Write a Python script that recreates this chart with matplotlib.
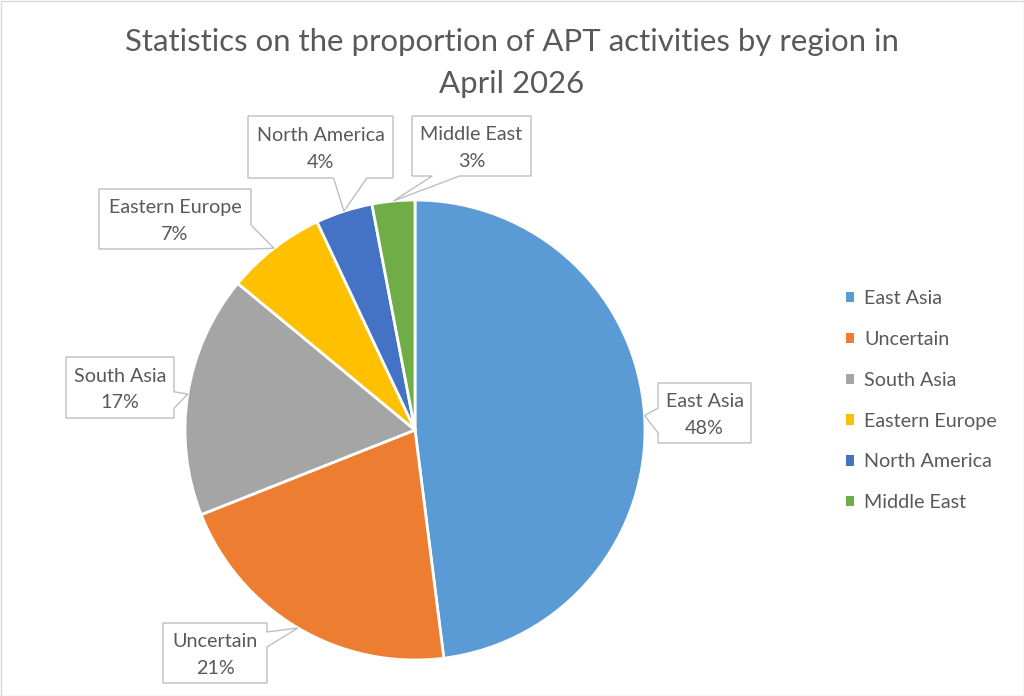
"""
Pie chart of APT activity share by region, April 2026 (Excel-style callouts).
"""

import numpy as np
import matplotlib.pyplot as plt
from matplotlib.patches import Polygon, Rectangle, Patch

regions = ["East Asia", "Uncertain", "South Asia", "Eastern Europe",
           "North America", "Middle East"]
shares = [48, 21, 17, 7, 4, 3]
colors = ["#5B9BD5", "#ED7D31", "#A5A5A5", "#FFC000", "#4472C4", "#70AD47"]
title = "Statistics on the proportion of APT activities by region in\nApril 2026"

W, H = 1024, 696
FONT = ["Lato", "DejaVu Sans"]
TEXT_COLOR = "#595959"
CENTER = (415, 430)   # pixels, measured from top
RADIUS = 230

# callout box (left, top, right, bottom) in pixels from top, side of pointer,
# and the part of that side the pointer starts from
callouts = {
    "East Asia": ((658, 383, 751, 443), "left", (0.42, 0.83)),
    "Uncertain": ((163, 623, 267, 683), "right", (0.15, 0.40)),
    "South Asia": ((66, 357, 174, 418), "right", (0.57, 0.84)),
    "Eastern Europe": ((99, 189, 251, 249), "right", (0.60, 1.00)),
    "North America": ((248, 116, 393, 178), "bottom", (0.59, 0.82)),
    "Middle East": ((412, 116, 531, 176), "bottom", (0.17, 0.40)),
}


def fy(y):
    """Pixel row (from top) to data y (from bottom)."""
    return H - y


def callout_polygon(box, side, frac, tip):
    x0, y0, x1, y1 = box
    tl, tr, br, bl = (x0, fy(y0)), (x1, fy(y0)), (x1, fy(y1)), (x0, fy(y1))
    if side == "bottom":
        a = x0 + frac[0] * (x1 - x0)
        b = x0 + frac[1] * (x1 - x0)
        pts = [tl, tr, br, (b, fy(y1)), tip, (a, fy(y1)), bl]
    elif side == "left":
        a = y0 + frac[0] * (y1 - y0)
        b = y0 + frac[1] * (y1 - y0)
        pts = [tl, tr, br, bl, (x0, fy(b)), tip, (x0, fy(a))]
    else:
        a = y0 + frac[0] * (y1 - y0)
        b = y0 + frac[1] * (y1 - y0)
        pts = [tl, tr, (x1, fy(a)), tip, (x1, fy(b)), br, bl]
    return Polygon(pts, closed=True, facecolor="white", edgecolor="#BFBFBF",
                   linewidth=1.0, zorder=3)


fig = plt.figure(figsize=(W / 100, H / 100), dpi=100)
ax = fig.add_axes([0, 0, 1, 1])

cx, cy = CENTER[0], fy(CENTER[1])
ax.pie(shares, colors=colors, startangle=90, counterclock=False,
       center=(cx, cy), radius=RADIUS,
       wedgeprops=dict(edgecolor="white", linewidth=2))

ax.set_xlim(0, W)
ax.set_ylim(0, H)
ax.set_aspect("auto")
ax.axis("off")

# callouts, pointing at the middle of each slice's rim
total = sum(shares)
cum = np.cumsum(shares)
for name, value, c in zip(regions, shares, cum):
    theta = np.radians(90 - 360 * (c - value / 2) / total)
    tip = (cx + RADIUS * np.cos(theta), cy + RADIUS * np.sin(theta))
    box, side, frac = callouts[name]
    ax.add_patch(callout_polygon(box, side, frac, tip))
    bx = (box[0] + box[2]) / 2
    by = fy((box[1] + box[3]) / 2 + 2)
    ax.text(bx, by, f"{name}\n{value / total:.0%}", ha="center", va="center",
            multialignment="center", fontsize=14.2, color=TEXT_COLOR,
            family=FONT, linespacing=1.7, zorder=4)

ax.text(W / 2, fy(28), title, ha="center", va="top", fontsize=22.4,
        color=TEXT_COLOR, family=FONT, linespacing=1.6)

handles = [Patch(facecolor=col, edgecolor="none") for col in colors]
ax.legend(handles, regions, loc="upper left", bbox_to_anchor=(846, fy(290)),
          bbox_transform=ax.transData, frameon=False, handlelength=0.42,
          handleheight=0.42, handletextpad=0.5, labelspacing=1.21,
          borderpad=0, borderaxespad=0, labelcolor=TEXT_COLOR,
          prop=dict(family=FONT, size=14.2))

# chart area border
ax.add_patch(Rectangle((0.5, 0.5), W - 1, H - 1, fill=False,
                       edgecolor="#D9D9D9", linewidth=1, zorder=5))

plt.savefig("out.png", dpi=100)
plt.close()
